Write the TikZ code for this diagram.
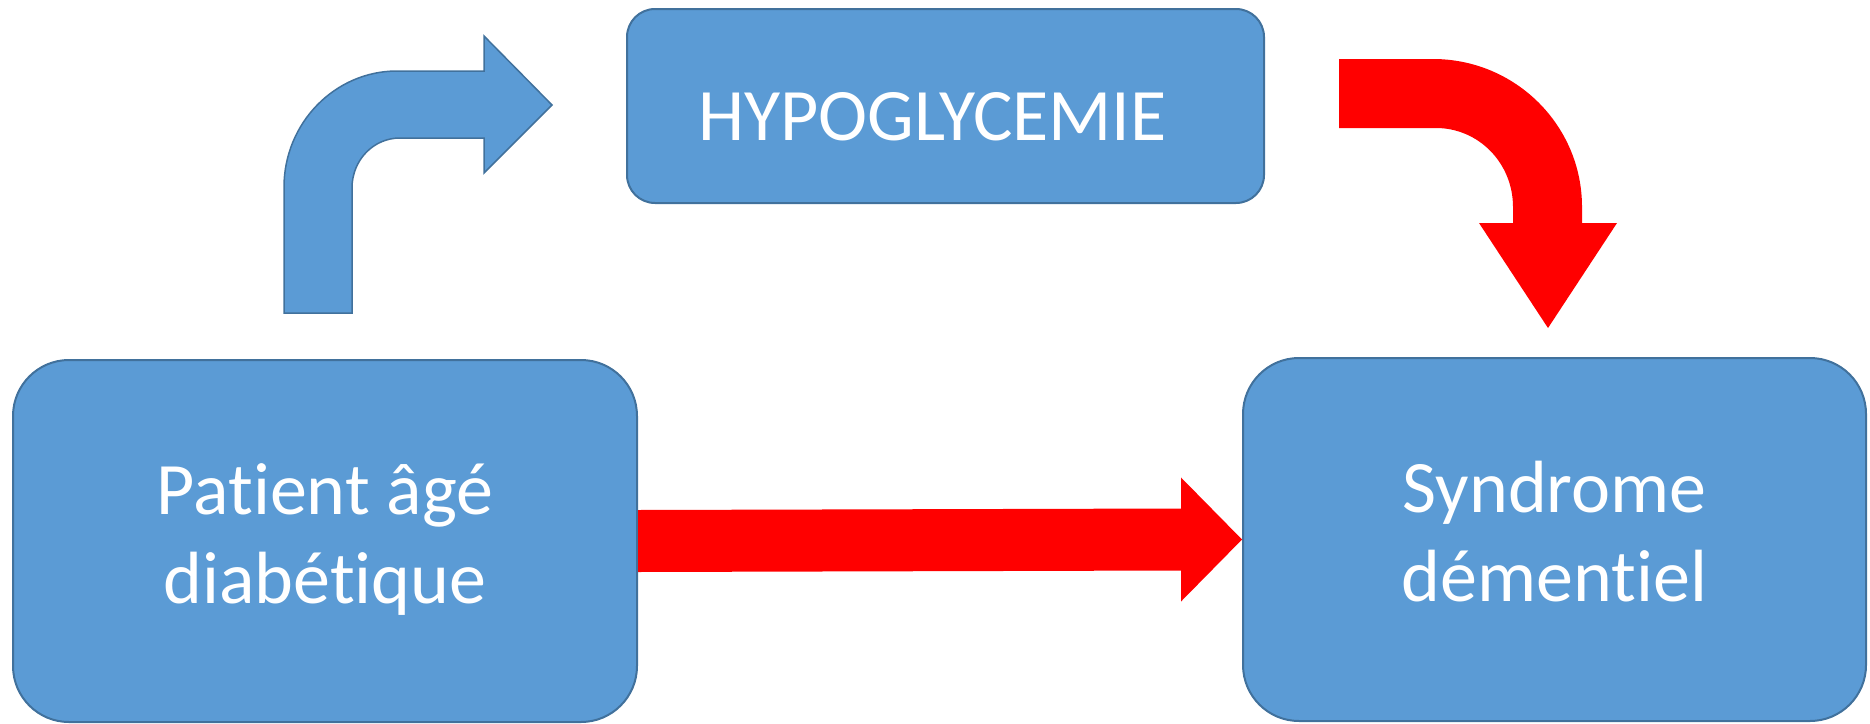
\documentclass[tikz,border=0pt]{standalone}
\usepackage{fontspec}
\setmainfont{Carlito}[Ligatures={NoCommon,NoContextual},Contextuals=NoAlternate]
\usetikzlibrary{calc}
\definecolor{boxfill}{HTML}{5B9BD5}
\definecolor{boxline}{HTML}{41719C}
\definecolor{arrowred}{HTML}{FF0000}
\newcommand{\twolines}[2]{\raisebox{-7pt}{\begin{tabular}{@{}c@{}}#1\\#2\end{tabular}}}
\tikzset{
  box/.style={rectangle, draw=boxline, fill=boxfill, line width=2pt,
    text=white, align=center, inner sep=0pt,
    font=\fontsize{74}{89}\selectfont},
  bluearrow/.style={draw=boxline, fill=boxfill, line width=1.5pt, line join=miter},
  redarrow/.style={fill=arrowred}
}
\begin{document}
\begin{tikzpicture}[x=1pt,y=-1pt]
\useasboundingbox (0,0) rectangle (1870,723);
% boxes
\node[box, minimum width=624pt, minimum height=362pt, rounded corners=56pt]
  (patient) at (325,541) {\twolines{Patient âgé}{diabétique}};
\node[box, minimum width=637pt, minimum height=194pt, rounded corners=28pt]
  (hypo) at (945.5,106) {\raisebox{-11pt}[\height][\depth]{HYPOGLYCEMIE}\hspace*{26pt}};
\node[box, minimum width=623pt, minimum height=363pt, rounded corners=56pt]
  (synd) at (1554.5,539.5) {\twolines{Syndrome}{démentiel}};
% bent blue arrow (patient -> hypo)
\draw[bluearrow] (284,313) -- (284,187)
  .. controls (284,123) and (335,71) .. (397,71)
  -- (484,71) -- (484,36) -- (552,105) -- (484,173) -- (484,138) -- (400,138)
  .. controls (373.5,138) and (352,160) .. (352,188)
  -- (352,313) -- cycle;
% curved red arrow (hypo -> synd)
\fill[redarrow] (1339,59) -- (1433,59)
  .. controls (1515,59) and (1582,125) .. (1582,207)
  -- (1582,223) -- (1617,223) -- (1548,328) -- (1479,223) -- (1513,223) -- (1513,207)
  .. controls (1513,163) and (1478.5,128) .. (1436,128)
  -- (1339,128) -- cycle;
% straight red arrow (patient -> synd)
\fill[redarrow] ($(patient.east)+(0,-31)$) -- ($(synd.west)+(-61,-31)$)
  -- ($(synd.west)+(-61,-62)$) -- (synd.west) -- ($(synd.west)+(-61,62)$)
  -- ($(synd.west)+(-61,31)$) -- ($(patient.east)+(0,31)$) -- cycle;
\end{tikzpicture}
\end{document}
